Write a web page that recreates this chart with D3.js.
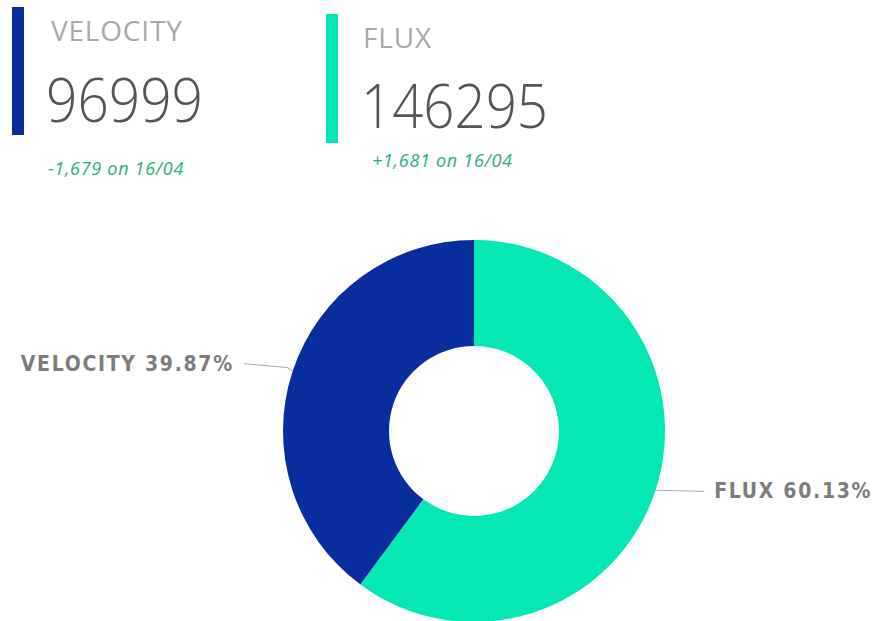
<!DOCTYPE html>
<html><head><meta charset="utf-8">
<script src="https://cdn.jsdelivr.net/npm/d3@7"></script>
<style>html,body{margin:0;padding:0;background:#fff;}</style>
</head><body>
<svg id="chart" width="884" height="621"></svg>
<script>
const categories = ["VELOCITY", "FLUX"];
const values = [96999, 146295];
const deltas = [-1679, 1681];
const deltaDate = "16/04";
const colors = ["#0a2d9e", "#05e8b3"];

const svg = d3.select("#chart");

// KPI cards
const cards = [
  {x: 12, top: 7, h: 128, tx: 51, titleY: 41, numX: 46, numY: 122, numLen: 157, dx: 48, deltaY: 175},
  {x: 326, top: 14, h: 129, tx: 363, titleY: 48, numX: 361, numY: 128, numLen: 187, dx: 372, deltaY: 167}
];
const fmt = d3.format(",");
categories.forEach((c, i) => {
  const k = cards[i];
  const g = svg.append("g");
  g.append("rect").attr("x", k.x).attr("y", k.top).attr("width", 12).attr("height", k.h).attr("fill", colors[i]);
  g.append("text").attr("x", k.tx).attr("y", k.titleY).text(c)
    .attr("font-family", "'Open Sans', sans-serif").attr("font-size", 28).attr("letter-spacing", 0.8)
    .attr("fill", "#a9a9a9");
  g.append("text").attr("x", k.numX).attr("y", k.numY).text(values[i])
    .attr("font-family", "'Open Sans', sans-serif").attr("font-weight", 300).attr("font-size", 60)
    .attr("fill", "#555").attr("textLength", k.numLen).attr("lengthAdjust", "spacingAndGlyphs");
  const d = deltas[i];
  g.append("text").attr("x", k.dx).attr("y", k.deltaY)
    .text((d > 0 ? "+" : "-") + fmt(Math.abs(d)) + " on " + deltaDate)
    .attr("font-family", "'Open Sans', sans-serif").attr("font-style", "italic").attr("font-size", 18)
    .attr("font-weight", 500).attr("letter-spacing", 0.7).attr("fill", "#2bb07c");
});

// Donut
const cx = 474, cy = 431, R = 191, r0 = 85;
const data = categories.map((c, i) => ({name: c, value: values[i], color: colors[i]}));
const total = d3.sum(values);
const pie = d3.pie().value(d => d.value).sort((a, b) => d3.descending(a.value, b.value));
const arcs = pie(data);
const arc = d3.arc().innerRadius(r0).outerRadius(R);
const dg = svg.append("g").attr("transform", `translate(${cx},${cy})`);
dg.selectAll("path").data(arcs).enter().append("path")
  .attr("d", arc).attr("fill", d => d.data.color);

// Labels with leader lines
const pct = d3.format(".2%");
arcs.forEach(a => {
  const mid = (a.startAngle + a.endAngle) / 2;
  const sx = Math.sin(mid), sy = -Math.cos(mid);
  const p1 = [sx * R, sy * R];
  const p2 = [sx * (R + 5), sy * (R + 5) - 2];
  const right = sx > 0;
  const p3 = [p2[0] + (right ? 44 : -44), p2[1] + (right ? 1 : -4)];
  dg.append("polyline").attr("points", [p1, p2, p3].map(p => p.join(",")).join(" "))
    .attr("fill", "none").attr("stroke", "#aaa").attr("stroke-width", 1);
  dg.append("text")
    .attr("x", p3[0] + (right ? 10 : -10)).attr("y", p3[1] + 7)
    .attr("text-anchor", right ? "start" : "end")
    .attr("font-family", "'DejaVu Sans Condensed', sans-serif").attr("font-weight", 600)
    .attr("font-size", 21).attr("letter-spacing", 1.7).attr("fill", "#7d7d7d")
    .text(a.data.name + " " + pct(a.data.value / total));
});
</script>
</body></html>
